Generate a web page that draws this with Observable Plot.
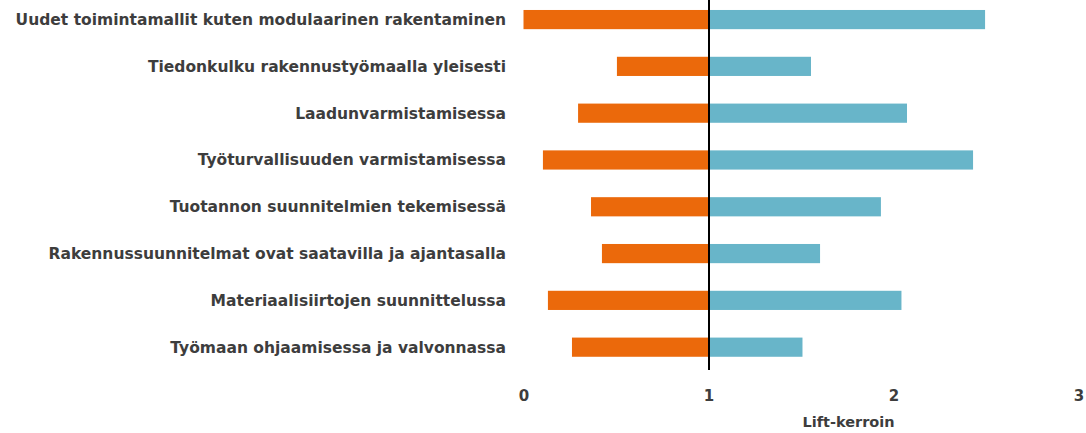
<!DOCTYPE html>
<html>
<head>
<meta charset="utf-8">
<script src="https://cdn.jsdelivr.net/npm/d3@7"></script>
<script src="https://cdn.jsdelivr.net/npm/@observablehq/plot@0.6"></script>
<style>
  html, body { margin: 0; padding: 0; background: #fff; }
  #chart { width: 1086px; height: 433px; }
</style>
</head>
<body>
<div id="chart"></div>
<script>
const categories = [
  "Uudet toimintamallit kuten modulaarinen rakentaminen",
  "Tiedonkulku rakennustyömaalla yleisesti",
  "Laadunvarmistamisessa",
  "Työturvallisuuden varmistamisessa",
  "Tuotannon suunnitelmien tekemisessä",
  "Rakennussuunnitelmat ovat saatavilla ja ajantasalla",
  "Materiaalisiirtojen suunnittelussa",
  "Työmaan ohjaamisessa ja valvonnassa"
];
const lowValues  = [0.00, 0.505, 0.295, 0.105, 0.365, 0.424, 0.132, 0.262];
const highValues = [2.495, 1.554, 2.073, 2.43, 1.932, 1.603, 2.043, 1.508];
const baseline = 1;
const xTicks = [0, 1, 2, 3];
const axisTitle = "Lift-kerroin";

const rows = categories.map((c, i) => ({cat: c, low: lowValues[i], high: highValues[i]}));
const textColor = "#3d3d3d";

const chart = Plot.plot({
  width: 1086,
  height: 433,
  marginLeft: 523.5,
  marginRight: 7.5,
  marginTop: 0,
  marginBottom: 63,
  style: {fontFamily: "'DejaVu Sans', sans-serif", background: "#fff"},
  x: {domain: [0, 3], ticks: xTicks},
  y: {domain: categories, paddingInner: 0.59, paddingOuter: 0.248, align: 0.43, round: false},
  marks: [
    Plot.barX(rows, {y: "cat", x1: "low", x2: () => baseline, fill: "#EB690B"}),
    Plot.barX(rows, {y: "cat", x1: () => baseline, x2: "high", fill: "#68B5C9"}),
    Plot.ruleX([baseline], {stroke: "#000", strokeWidth: 2}),
    Plot.axisY({tickSize: 0, tickPadding: 18, label: null, fontSize: 15.5, fontWeight: "bold", fill: textColor}),
    Plot.axisX({ticks: xTicks, tickFormat: "d", tickSize: 0, tickPadding: 20, label: null, fontSize: 15, fontWeight: "bold", fill: textColor}),
    Plot.text([axisTitle], {frameAnchor: "bottom", dx: 47, dy: 56, fontSize: 14.5, fontWeight: "bold", fill: textColor})
  ]
});
document.getElementById("chart").appendChild(chart);
</script>
</body>
</html>
